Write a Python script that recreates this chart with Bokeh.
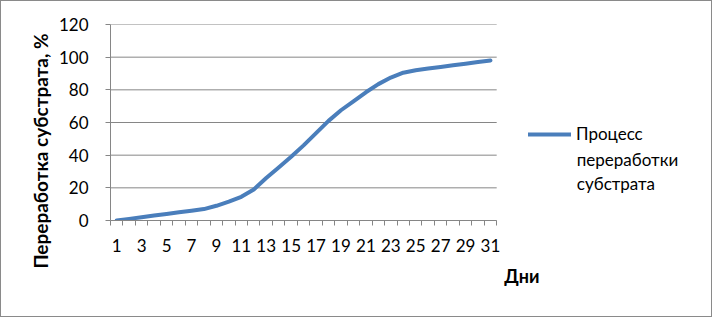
from bokeh.plotting import figure
from bokeh.models import (FixedTicker, Range1d, Legend, LegendItem, Title,
                          LinearAxis, Label)
from bokeh.embed import file_html
from bokeh.resources import INLINE

days = list(range(1, 32))
processing = [0, 1, 2, 3, 4, 5, 6, 7, 9, 11.5, 14.5, 19, 26, 32.5, 39, 46,
              53.5, 61, 67.5, 73, 78.5, 83.5, 87.5, 90.5, 92, 93, 94, 95, 96,
              97, 98]
x_tick_labels = [1, 3, 5, 7, 9, 11, 13, 15, 17, 19, 21, 23, 25, 27, 29, 31]
y_ticks = [0, 20, 40, 60, 80, 100, 120]
series_lines = ["Процесс", "переработки", "субстрата"]
y_title = "Переработка субстрата, %"
x_title = "Дни"

FONT = "Lato"
GRID = "#868686"
BLUE = "#4A7EBB"

x_lo, x_hi = days[0] - 0.5, days[-1] + 0.5
# frame extends to the right (empty) so the legend is not clipped
p = figure(width=712, height=317, output_backend="svg", toolbar_location=None,
           x_range=Range1d(x_lo, 48.1), y_range=Range1d(0, 120),
           x_axis_location=None,
           min_border_left=109, min_border_right=10, min_border_top=23,
           min_border_bottom=98)
p.outline_line_color = None
p.background_fill_color = "white"
p.border_fill_color = "white"
p.styles = {"border": "1px solid #8a8a8a", "box-sizing": "border-box"}
p.xgrid.grid_line_color = None
p.ygrid.grid_line_color = None

# horizontal gridlines limited to the plot area
p.segment(x0=x_lo, x1=x_hi, y0=y_ticks, y1=y_ticks, line_color=GRID,
          line_width=1)

r = p.line(days, processing, line_color=BLUE, line_width=4, line_join="round",
           line_cap="round")

# x axis: tick marks between categories (labels not drawn)
boundaries = [d - 0.5 for d in days] + [x_hi]
xa = LinearAxis(ticker=FixedTicker(ticks=boundaries, minor_ticks=[]),
                bounds=(x_lo, x_hi))
xa.major_tick_out = 5
xa.major_tick_in = 0
xa.major_tick_line_color = GRID
xa.axis_line_color = GRID
xa.major_label_text_color = None
xa.major_label_text_font_size = "1px"
xa.major_label_standoff = 0
p.add_layout(xa, "below")

# x axis: category labels
xl = LinearAxis(ticker=FixedTicker(ticks=x_tick_labels, minor_ticks=[]))
xl.axis_line_color = None
xl.major_tick_line_color = None
xl.major_tick_out = 0
xl.major_label_standoff = 13
xl.major_label_text_font = FONT
xl.major_label_text_font_size = "17px"
xl.major_label_text_color = "black"
p.add_layout(xl, "below")

p.add_layout(Title(text=x_title, align="right", offset=164, standoff=17,
                   text_font=FONT, text_font_size="18px",
                   text_font_style="bold", text_color="black"), "below")

# y axis
ya = p.yaxis[0]
ya.ticker = FixedTicker(ticks=y_ticks, minor_ticks=[])
ya.major_tick_out = 5
ya.major_tick_in = 0
ya.major_tick_line_color = GRID
ya.axis_line_color = GRID
ya.major_label_standoff = 17
ya.major_label_text_font = FONT
ya.major_label_text_font_size = "17px"
ya.major_label_text_color = "black"

p.add_layout(Title(text=y_title, align="left", offset=-48, standoff=7,
                   text_font=FONT, text_font_size="19px",
                   text_font_style="bold", text_color="black"), "left")

legend = Legend(items=[LegendItem(label=series_lines[0], renderers=[r])],
                location=(418, 76), background_fill_alpha=0,
                border_line_color=None, padding=0, margin=0,
                label_text_font=FONT, label_text_font_size="17px",
                label_text_color="black", glyph_width=43, label_standoff=5)
p.add_layout(legend)

for i, line in enumerate(series_lines[1:]):
    p.add_layout(Label(x=37.93, y=37.3 - 14.7 * i, text=line,
                       text_font=FONT, text_font_size="17px",
                       text_color="black", text_align="left",
                       text_baseline="middle"))

open("out.html", "w").write(file_html(p, INLINE))
